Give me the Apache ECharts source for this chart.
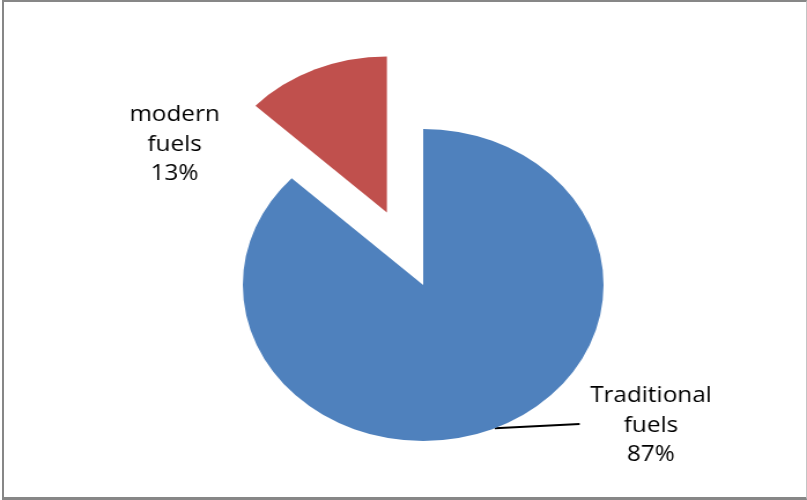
<!DOCTYPE html>
<html>
<head>
    <meta charset="utf-8">
    <style>
        body{margin: 0; background: #fff;}
        #frame{
            position: absolute;
            left: 2px;
            top: 0;
            width: 802px;
            height: 495px;
            border-top: 2px solid #878787;
            border-left: 2px solid #878787;
            border-bottom: 3px solid #878787;
            border-right: 1px solid #c4c4c4;
        }
        /* the original picture is stretched sideways, so the round pie is scaled */
        #container{
            position: absolute;
            left: 0;
            top: 0;
            width: 698px;
            height: 500px;
            transform: scaleX(1.1562);
            transform-origin: 0 0;
        }
    </style>
</head>
<body>
<div id="frame"></div>
<div id="container"></div>

<script src="https://cdn.jsdelivr.net/npm/echarts@6/dist/echarts.min.js"></script>
<script type="text/javascript">
    var categories = ['Traditional fuels', 'modern fuels'];
    var values = [87, 13];
    var colors = ['#4F81BD', '#C0504D'];
    var exploded = [false, true];

    // where the two label blocks sit (centre of the text)
    var labelSpots = [[563, 426], [151, 145]];

    var pieCenter = [366, 285];
    var pieRadius = 156;
    var explodeBy = 79;

    var dom = document.getElementById('container');
    var myChart = echarts.init(dom);

    var total = values.reduce(function (a, b) { return a + b; }, 0);

    // one pie per slice, the exploded one gets its centre pushed out along its mid angle
    function sliceCenter(idx) {
        if (!exploded[idx]) return pieCenter;
        var before = 0;
        for (var k = 0; k < idx; k++) before += values[k];
        var mid = (90 - 360 * (before + values[idx] / 2) / total) * Math.PI / 180;
        return [pieCenter[0] + explodeBy * Math.cos(mid), pieCenter[1] - explodeBy * Math.sin(mid)];
    }

    var series = categories.map(function (_, idx) {
        return {
            type: 'pie',
            center: sliceCenter(idx),
            radius: pieRadius,
            startAngle: 90,
            clockwise: true,
            silent: true,
            emphasis: {disabled: true},
            itemStyle: {borderWidth: 0},
            data: categories.map(function (name, i) {
                var own = i === idx;
                return {
                    name: name,
                    value: values[i],
                    itemStyle: {color: own ? colors[i] : 'rgba(0,0,0,0)'},
                    label: {show: own},
                    labelLine: {show: own && i === 0}
                };
            }),
            label: {
                show: true,
                position: 'outside',
                color: '#000',
                fontFamily: 'Open Sans',
                fontSize: 21,
                lineHeight: 29.5,
                formatter: function (p) {
                    return p.name.replace(' ', '\n') + '\n' + Math.round(p.percent) + '%';
                }
            },
            labelLine: {
                length: 1,
                length2: 73,
                smooth: false,
                lineStyle: {color: '#000', width: 2}
            },
            labelLayout: function (params) {
                var spot = labelSpots[params.dataIndex];
                var out = {
                    x: spot[0],
                    y: spot[1],
                    align: 'center',
                    verticalAlign: 'middle'
                };
                var pts = params.labelLinePoints;
                if (pts) {
                    // the line climbs a little towards its end
                    var last = pts[pts.length - 1];
                    out.labelLinePoints = [pts[0], [last[0], last[1] - 5]];
                }
                return out;
            }
        };
    });

    var option = {
        animation: false,
        series: series
    };

    myChart.setOption(option, true);
</script>
</body>
</html>
